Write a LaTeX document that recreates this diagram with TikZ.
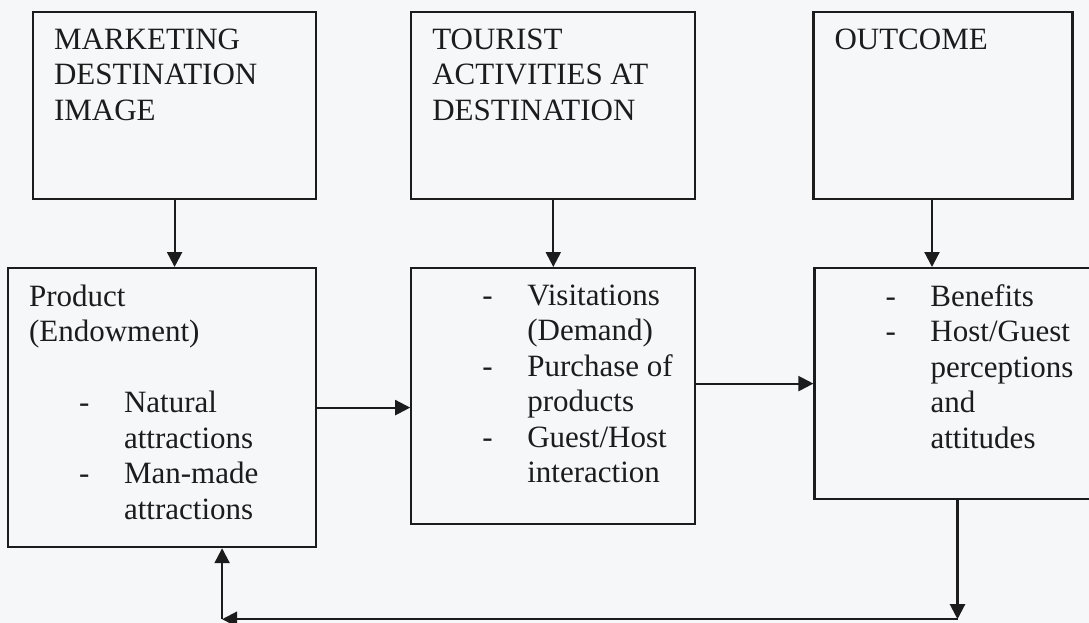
\documentclass[tikz,border=0pt]{standalone}
\usepackage{fontspec}
\setmainfont{Liberation Serif}
\usetikzlibrary{positioning}
\usetikzlibrary{arrows.meta}
\definecolor{ink}{RGB}{28,28,28}
\definecolor{paper}{RGB}{245,247,249}
\newcommand{\BoxText}[3]{\parbox[c][#2][t]{#1}{\fontsize{31}{35.5}\selectfont
    \setlength{\leftskip}{21pt}\setlength{\rightskip}{0pt plus 1fil}%
    \vspace*{16.5pt}#3}}
\newcommand{\DashLine}[1]{\par\noindent\hspace*{50pt}\makebox[45pt][l]{-}#1}
\newcommand{\NextLine}[1]{\par\noindent\hspace*{95pt}#1}
\tikzset{
    block/.style={draw=ink, line width=2.2pt, inner sep=0pt, text=ink},
    link/.style={-{Triangle[width=15pt,length=15pt]}, line width=2.2pt, draw=ink}
}
\begin{document}
\begin{tikzpicture}
 % page
 \fill[paper] (0,0) rectangle (1089pt,-623pt);
 \useasboundingbox (0,0) rectangle (1089pt,-623pt);

 % Marketing destination image
 \node[block, anchor=north west] (image) at (32pt,-11pt)
    {\BoxText{283pt}{187pt}{MARKETING\par DESTINATION\par IMAGE}};

% Tourist activities
\node [block,
    right=93pt of image
]  (activities) {\BoxText{284pt}{187pt}{TOURIST\par ACTIVITIES AT\par DESTINATION}};

% Outcome
\node [block,
    right=116pt of activities
] (outcome) {\BoxText{259pt}{187pt}{OUTCOME}};

% Product (endowment)
\node [block, anchor=north west] (product) at (7pt,-267pt)
    {\BoxText{308pt}{279pt}{Product\par (Endowment)\par \mbox{}%
    \DashLine{Natural}\NextLine{attractions}%
    \DashLine{Man-made}\NextLine{attractions}}};

% Visitations, purchases, interaction
\node [block,
    right=93pt of product.north east, anchor=north west
] (visits) {\BoxText{284pt}{256pt}{\DashLine{Visitations}\NextLine{(Demand)}%
    \DashLine{Purchase of}\NextLine{products}%
    \DashLine{Guest/Host}\NextLine{interaction}}};

% Benefits and perceptions
\node [block,
    right=117pt of visits.north east, anchor=north west
] (benefits) {\BoxText{286pt}{231pt}{\DashLine{Benefits}\DashLine{Host/Guest}%
    \NextLine{perceptions}\NextLine{and}\NextLine{attitudes}}};

% Arrows
\draw[link] (image.south) -- (image.south |- product.north);
\draw[link] (activities.south) -- (activities.south |- visits.north);
\draw[link] ([xshift=-11pt]outcome.south) -- ([xshift=-11pt]outcome.south |- benefits.north);

\draw[link] (product.east) -- (product.east -| visits.west);
\draw[link] (benefits.west -| visits.east) -- (benefits.west);

% feedback loop
\coordinate[below=119pt of benefits.south] (loopR);
\coordinate (loopL) at ([xshift=60pt]product.south |- loopR);
\draw[link] (benefits.south) -- (loopR);
\draw[link] (loopR) -- (loopL);
\draw[link] (loopL) -- (loopL |- product.south);

\end{tikzpicture}
\end{document}
